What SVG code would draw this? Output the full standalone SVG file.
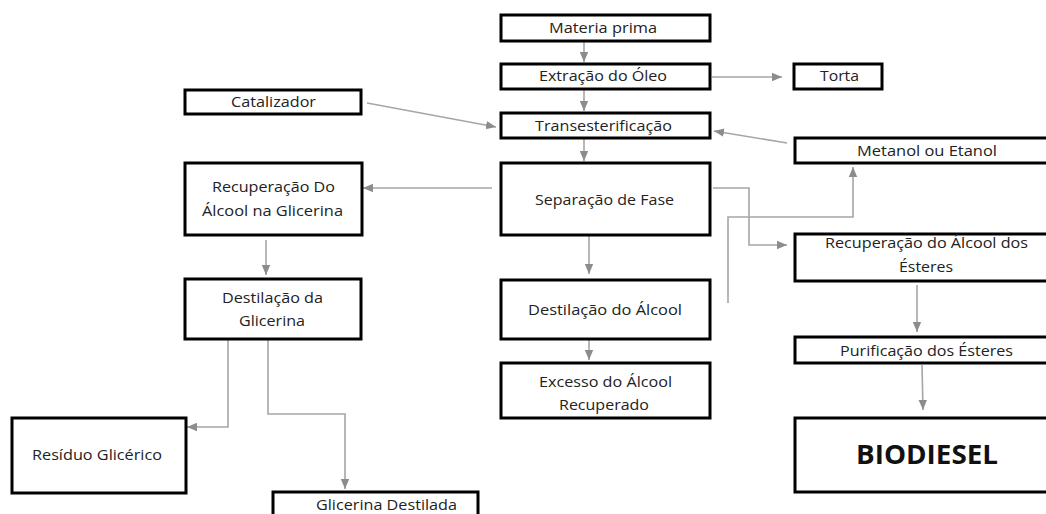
<svg xmlns="http://www.w3.org/2000/svg" width="1046" height="514" viewBox="0 0 1046 514">
<style>
.box{fill:#fff;stroke:#000;stroke-width:3}
.t{font-family:"Open Sans","Liberation Sans",sans-serif;font-size:14px;fill:#222}
.b{font-family:"Open Sans","Liberation Sans",sans-serif;font-size:26px;font-weight:bold;fill:#111}
.c{fill:none;stroke:#a6a6a6;stroke-width:1.6}
</style>
<defs>
<marker id="ah" markerUnits="userSpaceOnUse" markerWidth="10" markerHeight="10" viewBox="0 0 10 10" refX="10" refY="5" orient="auto">
<path d="M0,0.8 L10,5 L0,9.2 Z" fill="#8c8c8c"/>
</marker>
</defs>
<rect width="1046" height="514" fill="#fff"/>
<g id="connectors">
<path class="c" marker-end="url(#ah)" d="M584,42 V62"/>
<path class="c" marker-end="url(#ah)" d="M584,90 V111"/>
<path class="c" marker-end="url(#ah)" d="M584,139 V161"/>
<path class="c" marker-end="url(#ah)" d="M712,77 H782"/>
<path class="c" marker-end="url(#ah)" d="M367,103 L496,127"/>
<path class="c" marker-end="url(#ah)" d="M787,143 L714,131"/>
<path class="c" marker-end="url(#ah)" d="M492,188 H363"/>
<path class="c" marker-end="url(#ah)" d="M713,188 H749 V245 H787"/>
<path class="c" marker-end="url(#ah)" d="M728,303 V217 H853 V167"/>
<path class="c" marker-end="url(#ah)" d="M589,236 V274"/>
<path class="c" marker-end="url(#ah)" d="M589,340 V360"/>
<path class="c" marker-end="url(#ah)" d="M917,285 V332"/>
<path class="c" marker-end="url(#ah)" d="M922,365 L923,410"/>
<path class="c" marker-end="url(#ah)" d="M266,240 V275"/>
<path class="c" marker-end="url(#ah)" d="M228,340 V427 H187"/>
<path class="c" marker-end="url(#ah)" d="M268,340 V414 H345 V489"/>
</g>
<g id="materia-prima"><rect class="box" x="501" y="15" width="209" height="26"/><text class="t" x="549" y="33" textLength="108" lengthAdjust="spacingAndGlyphs">Materia prima</text></g>
<g id="extracao"><rect class="box" x="501" y="64" width="209" height="25"/><text class="t" x="539" y="81" textLength="128" lengthAdjust="spacingAndGlyphs">Extração do Óleo</text></g>
<g id="torta"><rect class="box" x="794" y="64" width="88" height="25"/><text class="t" x="820" y="81" textLength="39" lengthAdjust="spacingAndGlyphs">Torta</text></g>
<g id="transesterificacao"><rect class="box" x="501" y="113" width="209" height="25"/><text class="t" x="535" y="131" textLength="137" lengthAdjust="spacingAndGlyphs">Transesterificação</text></g>
<g id="catalizador"><rect class="box" x="185" y="90" width="176" height="24"/><text class="t" x="231" y="107" textLength="85" lengthAdjust="spacingAndGlyphs">Catalizador</text></g>
<g id="metanol"><rect class="box" x="795" y="138" width="262" height="25"/><text class="t" x="857" y="156" textLength="140" lengthAdjust="spacingAndGlyphs">Metanol ou Etanol</text></g>
<g id="recuperacao-glicerina"><rect class="box" x="185" y="163" width="177" height="72"/><text class="t" x="212" y="192" textLength="123" lengthAdjust="spacingAndGlyphs">Recuperação Do</text><text class="t" x="202" y="216" textLength="141" lengthAdjust="spacingAndGlyphs">Álcool na Glicerina</text></g>
<g id="separacao"><rect class="box" x="501" y="163" width="209" height="72"/><text class="t" x="535" y="205" textLength="139" lengthAdjust="spacingAndGlyphs">Separação de Fase</text></g>
<g id="recuperacao-esteres"><rect class="box" x="795" y="234" width="262" height="47"/><text class="t" x="825" y="248" textLength="203" lengthAdjust="spacingAndGlyphs">Recuperação do Álcool dos</text><text class="t" x="899" y="272" textLength="54" lengthAdjust="spacingAndGlyphs">Ésteres</text></g>
<g id="destilacao-glicerina"><rect class="box" x="185" y="279" width="176" height="60"/><text class="t" x="222" y="303" textLength="101" lengthAdjust="spacingAndGlyphs">Destilação da</text><text class="t" x="239" y="326" textLength="66" lengthAdjust="spacingAndGlyphs">Glicerina</text></g>
<g id="destilacao-alcool"><rect class="box" x="501" y="280" width="209" height="59"/><text class="t" x="528" y="315" textLength="154" lengthAdjust="spacingAndGlyphs">Destilação do Álcool</text></g>
<g id="purificacao"><rect class="box" x="795" y="337" width="262" height="26"/><text class="t" x="840" y="356" textLength="173" lengthAdjust="spacingAndGlyphs">Purificação dos Ésteres</text></g>
<g id="excesso"><rect class="box" x="501" y="363" width="209" height="55"/><text class="t" x="539" y="387" textLength="133" lengthAdjust="spacingAndGlyphs">Excesso do Álcool</text><text class="t" x="559" y="410" textLength="90" lengthAdjust="spacingAndGlyphs">Recuperado</text></g>
<g id="biodiesel"><rect class="box" x="795" y="418" width="262" height="74"/><text class="b" x="856" y="464" textLength="142" lengthAdjust="spacingAndGlyphs">BIODIESEL</text></g>
<g id="residuo"><rect class="box" x="12" y="418" width="174" height="75"/><text class="t" x="32" y="460" textLength="130" lengthAdjust="spacingAndGlyphs">Resíduo Glicérico</text></g>
<g id="glicerina-destilada"><rect class="box" x="273" y="492" width="205" height="40"/><text class="t" x="316" y="510" textLength="141" lengthAdjust="spacingAndGlyphs">Glicerina Destilada</text></g>
</svg>
